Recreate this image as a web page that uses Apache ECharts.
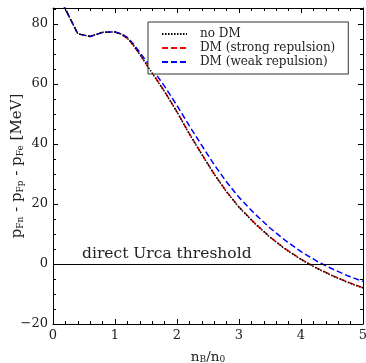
<!DOCTYPE html>
<html><head><meta charset="utf-8">
<script src="https://cdn.jsdelivr.net/npm/echarts@6/dist/echarts.min.js"></script>
<style>html,body{margin:0;padding:0;background:#fff}#c{width:366px;height:363px}</style>
</head><body><div id="c"></div>
<script>
const xValues = [0.15,0.4,0.6,0.8,1.0,1.1,1.2,1.3,1.4,1.6,1.8,2.0,2.2,2.4,2.6,2.8,3.0,3.25,3.5,3.75,4.0,4.25,4.5,4.75,5.0];
const noDM = [87.0,76.7,75.8,77.2,77.3,76.6,75.2,72.8,69.8,63.6,57.4,50.6,43.3,36.5,29.9,24.0,18.9,13.6,8.9,4.9,1.5,-1.4,-3.9,-6.1,-8.0];
const dmStrong = [87.0,76.7,75.8,77.2,77.3,76.6,75.2,72.8,69.9,63.7,57.5,50.7,43.4,36.6,30.0,24.1,19.0,13.7,9.0,5.0,1.6,-1.3,-3.8,-6.0,-7.9];
const dmWeak = [87.0,76.7,75.8,77.2,77.3,76.7,75.5,73.2,70.5,65.0,59.2,52.8,46.0,39.5,33.1,27.3,22.2,16.8,12.0,7.8,4.1,1.0,-1.6,-3.9,-5.8];
const seriesNames = ['no DM','DM (strong repulsion)','DM (weak repulsion)'];
const xTicks = [0,1,2,3,4,5];
const yTicks = [-20,0,20,40,60,80];
const thresholdLabel = 'direct Urca threshold';

const F = 'DejaVu Serif';
const pair = arr => xValues.map((x,i)=>[x,arr[i]]);
const chart = echarts.init(document.getElementById('c'), null, {renderer:'canvas'});
const axisCommon = {
  axisLine:{show:true,onZero:false,lineStyle:{color:'#000',width:1}},
  axisTick:{show:true,inside:true,length:5,lineStyle:{color:'#000'}},
  minorTick:{show:true,splitNumber:5,length:3,lineStyle:{color:'#000'}},
  splitLine:{show:false}
};
const fmt = v => String(v).replace('-', '\u2212');
chart.setOption({
  animation:false,
  grid:{left:53,right:3,top:8,bottom:39,containLabel:false,outerBoundsMode:'none'},
  xAxis:[
    Object.assign({type:'value',min:0,max:5,interval:1,position:'bottom',
      axisLabel:{fontFamily:F,fontSize:13,color:'#222',margin:5,formatter:v=>xTicks.includes(v)?fmt(v):''},
      name:'{n|n}{s|B}{n|/n}{s|0}',nameLocation:'middle',nameGap:24,nameMoveOverlap:false,
      nameTextStyle:{rich:{n:{fontFamily:F,fontSize:13.5,color:'#222',verticalAlign:'bottom',lineHeight:16},s:{fontFamily:F,fontSize:9,color:'#222',verticalAlign:'bottom',lineHeight:12}}}
    },axisCommon),
    Object.assign({type:'value',min:0,max:5,interval:1,position:'top',axisLabel:{show:false}},axisCommon)
  ],
  yAxis:[
    Object.assign({type:'value',min:-20,max:85.3,interval:20,position:'left',
      axisLabel:{fontFamily:F,fontSize:13,color:'#222',margin:5,showMaxLabel:false,formatter:v=>yTicks.includes(v)?fmt(v):''},
      name:'{n|p}{s|Fn}{n| - p}{s|Fp}{n| - p}{s|Fe}{n| [MeV]}',nameLocation:'middle',nameGap:28,nameRotate:90,nameMoveOverlap:false,
      nameTextStyle:{rich:{n:{fontFamily:F,fontSize:15,color:'#222',verticalAlign:'bottom',lineHeight:17},s:{fontFamily:F,fontSize:9,color:'#222',verticalAlign:'bottom',lineHeight:13}}}
    },axisCommon,{minorTick:{show:true,splitNumber:4,length:3,lineStyle:{color:'#000'}}}),
    Object.assign({type:'value',min:-20,max:85.3,interval:20,position:'right',axisLabel:{show:false}},axisCommon,{minorTick:{show:true,splitNumber:4,length:3,lineStyle:{color:'#000'}}})
  ],
  legend:{
    data:seriesNames,orient:'vertical',left:148,top:22,
    backgroundColor:'#fff',borderColor:'#333',borderWidth:1,borderRadius:0,
    padding:[6,13,6,13],itemWidth:25,itemHeight:12,itemGap:2,
    itemStyle:{opacity:0},
    textStyle:{fontFamily:F,fontSize:12,color:'#222',padding:[0,0,0,8]}
  },
  series:[
    {name:seriesNames[1],type:'line',data:pair(dmStrong),symbol:'none',z:2,clip:true,
     lineStyle:{color:'#ff0000',width:1.5,type:[6,3]},itemStyle:{color:'#ff0000'},
     markLine:{silent:true,symbol:'none',data:[{yAxis:0}],
       lineStyle:{color:'#000',width:1,type:'solid'},
       label:{show:true,position:'insideStartTop',formatter:thresholdLabel,fontFamily:F,fontSize:15.5,color:'#222',distance:[29,2]}}},
    {name:seriesNames[2],type:'line',data:pair(dmWeak),symbol:'none',z:3,clip:true,
     lineStyle:{color:'#0000ff',width:1.5,type:[6,3]},itemStyle:{color:'#0000ff'}},
    {name:seriesNames[0],type:'line',data:pair(noDM),symbol:'none',z:4,clip:true,
     lineStyle:{color:'#000',width:1.5,type:[1.5,1.5]},itemStyle:{color:'#000'}}
  ]
});
</script></body></html>
